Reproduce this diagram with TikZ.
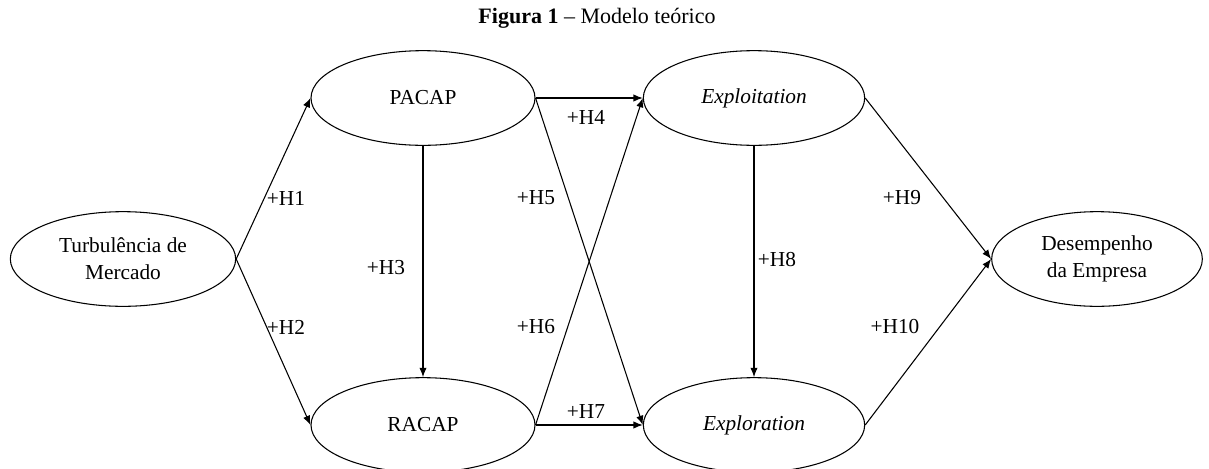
\documentclass[tikz,border=0pt]{standalone}
\usepackage{fontspec}
\setmainfont{Liberation Serif}
\usetikzlibrary{shapes.geometric,arrows.meta}
\tikzset{
  construct/.style={draw, ellipse, line width=0.8pt, inner sep=0pt, minimum width=168pt, minimum height=71pt, align=center, font=\fontsize{16}{20}\selectfont},
  link/.style={line width=0.8pt, -{Latex[length=7pt,width=5.5pt]}},
  hyp/.style={inner sep=0pt, font=\fontsize{16}{20}\selectfont}
}
\begin{document}
\begin{tikzpicture}[x=0.75pt,y=-0.75pt]
\useasboundingbox (0,0) rectangle (1209,468);
\node[inner sep=0pt, font=\fontsize{16.5}{20}\selectfont] (title) at (597,18) {\textbf{Figura 1} – Modelo teórico};
\node[construct, minimum width=169pt] (turb) at (123,259) {Turbulência de\\Mercado};
\node[construct] (pacap) at (423,98) {PACAP};
\node[construct] (racap) at (423,425) {RACAP};
\node[construct, minimum width=166pt] (expt) at (754,98) {\textit{Exploitation}};
\node[construct, minimum width=166pt] (expr) at (754,425) {\textit{Exploration}};
\node[construct, minimum width=158pt] (des) at (1097,259) {Desempenho\\da Empresa};
\draw[link] (turb.east) -- (pacap.west);
\draw[link] (turb.east) -- (racap.west);
\draw[link] (pacap.south) -- (racap.north);
\draw[link] (pacap.east) -- (expt.west);
\draw[link] (pacap.east) -- (expr.west);
\draw[link] (racap.east) -- (expt.west);
\draw[link] (racap.east) -- (expr.west);
\draw[link] (expt.south) -- (expr.north);
\draw[link] (expt.east) -- (des.west);
\draw[link] (expr.east) -- (des.west);
\node[hyp] (h1) at (286,198) {+H1};
\node[hyp] (h2) at (286,327) {+H2};
\node[hyp] (h3) at (386,268) {+H3};
\node[hyp] (h4) at (586,117) {+H4};
\node[hyp] (h5) at (536,198) {+H5};
\node[hyp] (h6) at (536,327) {+H6};
\node[hyp] (h7) at (586,412) {+H7};
\node[hyp] (h8) at (777,260) {+H8};
\node[hyp] (h9) at (902,198) {+H9};
\node[hyp] (h10) at (895,327) {+H10};
\end{tikzpicture}
\end{document}
